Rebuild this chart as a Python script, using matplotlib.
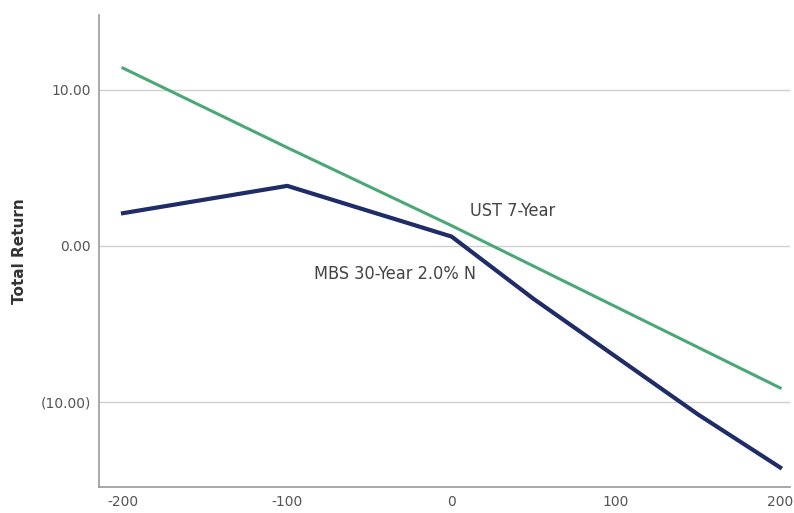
import matplotlib.pyplot as plt

# Datos
shift_bp = [-200, -100, 0, 50, 100, 150, 200]
ust_7y = [11.4, 6.3, 1.3, -1.3, -3.9, -6.5, -9.1]
mbs_30y = [2.1, 3.85, 0.6, -3.4, -7.1, -10.8, -14.2]
y_ticks = [-10, 0, 10]
y_tick_labels = ["(10.00)", "0.00", "10.00"]
x_ticks = [-200, -100, 0, 100, 200]

plt.rcParams['font.family'] = ['DejaVu Sans']

fig = plt.figure(figsize=(7.94, 5.13), dpi=100)
ax = fig.add_axes([0.1247, 0.0507, 0.8703, 0.92])

ax.plot(shift_bp, ust_7y, color="#4aa877", lw=2.2, zorder=3)
ax.plot(shift_bp, mbs_30y, color="#1f2c68", lw=3, zorder=3)

ax.set_xlim(-214.6, 206)
ax.set_ylim(-15.45, 14.8)
ax.set_xticks(x_ticks)
ax.set_xticklabels([str(v) for v in x_ticks])
ax.set_yticks(y_ticks)
ax.set_yticklabels(y_tick_labels)
ax.tick_params(length=0, labelsize=10, colors="#555555", pad=6)
ax.grid(axis="y", color="#d0d0d0", lw=1)
ax.set_axisbelow(True)

for s in ["top", "right"]:
    ax.spines[s].set_visible(False)
for s in ["left", "bottom"]:
    ax.spines[s].set_color("#9a9a9a")
    ax.spines[s].set_linewidth(1.2)

ax.text(11, 2.25, "UST 7-Year", fontsize=13, color="#444444", va="center",
        fontstretch="condensed")
ax.text(-84, -1.8, "MBS 30-Year 2.0% N", fontsize=13, color="#444444", va="center",
        fontstretch="condensed")

fig.text(0.025, 0.511, "Total Return", rotation=90, fontsize=11, fontweight="bold",
         color="#333333", ha="center", va="center")

fig.savefig("out.png", dpi=100)
